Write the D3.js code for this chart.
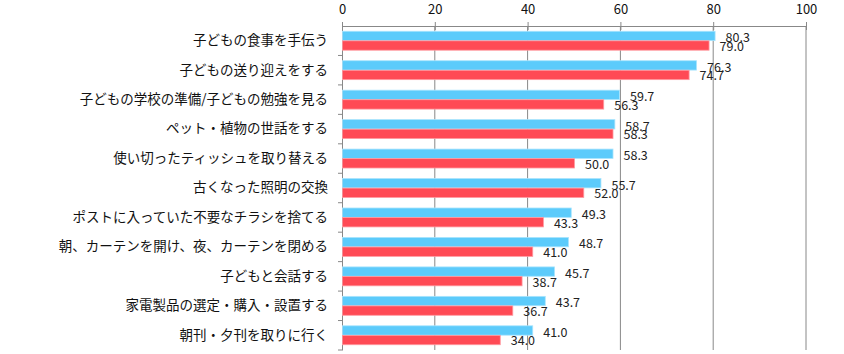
<!DOCTYPE html>
<html>
<head>
<meta charset="utf-8">
<script src="https://cdn.jsdelivr.net/npm/d3@7"></script>
<style>
  body { margin: 0; background: #fff; }
  text { font-family: "Noto Sans CJK JP", "Noto Sans", sans-serif; }
</style>
</head>
<body>
<div id="chart"></div>
<script>
// categories, top to bottom
const categories = [
    '子どもの食事を手伝う',
    '子どもの送り迎えをする',
    '子どもの学校の準備/子どもの勉強を見る',
    'ペット・植物の世話をする',
    '使い切ったティッシュを取り替える',
    '古くなった照明の交換',
    'ポストに入っていた不要なチラシを捨てる',
    '朝、カーテンを開け、夜、カーテンを閉める',
    '子どもと会話する',
    '家電製品の選定・購入・設置する',
    '朝刊・夕刊を取りに行く'
];
const blueValues = [80.3, 76.3, 59.7, 58.7, 58.3, 55.7, 49.3, 48.7, 45.7, 43.7, 41.0];
const redValues  = [79.0, 74.7, 56.3, 58.3, 50.0, 52.0, 43.3, 41.0, 38.7, 36.7, 34.0];
const xTicks = [0, 20, 40, 60, 80, 100];

const width = 844, height = 354;
const margin = { top: 26, right: 38, bottom: 4, left: 342 };

const svg = d3.select('#chart')
    .append('svg')
    .attr('width', width)
    .attr('height', height);

const x = d3.scaleLinear()
    .domain([0, 100])
    .range([margin.left, width - margin.right]);

const y = d3.scaleBand()
    .domain(categories)
    .range([margin.top, height - margin.bottom]);

// inner band for the two bars
const sub = d3.scaleBand()
    .domain(['blue', 'red'])
    .range([0, y.bandwidth()])
    .paddingOuter(0.55)
    .paddingInner(0.02);

// gridlines
svg.append('g')
    .selectAll('line')
    .data(xTicks.slice(1))
    .enter()
    .append('line')
    .attr('x1', d => x(d))
    .attr('x2', d => x(d))
    .attr('y1', margin.top)
    .attr('y2', height - margin.bottom)
    .attr('stroke', '#888')
    .attr('stroke-width', 1);

// top axis
const xAxis = svg.append('g')
    .attr('transform', `translate(0,${margin.top})`)
    .call(d3.axisTop(x).tickValues(xTicks).tickSize(4).tickSizeOuter(0));
xAxis.select('.domain').attr('stroke', '#888');
xAxis.selectAll('.tick line').attr('stroke', '#888').attr('y2', 4).attr('y1', -4);
xAxis.selectAll('.tick text')
    .attr('font-size', '13px')
    .attr('fill', '#111')
    .attr('y', -12);

// left axis
const yAxis = svg.append('g')
    .attr('transform', `translate(${margin.left},0)`)
    .call(d3.axisLeft(y).tickSize(0).tickSizeOuter(0));
yAxis.select('.domain').attr('stroke', '#888');
yAxis.selectAll('.tick text')
    .attr('font-size', '13.5px')
    .attr('fill', '#111')
    .attr('x', -14);

// category boundary ticks
svg.append('g')
    .selectAll('line')
    .data(categories.slice(1).concat([null]))
    .enter()
    .append('line')
    .attr('x1', margin.left - 4)
    .attr('x2', margin.left)
    .attr('y1', (d, i) => y(categories[i]) + y.bandwidth())
    .attr('y2', (d, i) => y(categories[i]) + y.bandwidth())
    .attr('stroke', '#888');

const rows = categories.map((c, i) => ({ cat: c, blue: blueValues[i], red: redValues[i] }));

const g = svg.append('g')
    .selectAll('g')
    .data(rows)
    .enter()
    .append('g')
    .attr('transform', d => `translate(0,${y(d.cat)})`);

// blue bars
g.append('rect')
    .attr('x', x(0) + 0.5)
    .attr('y', sub('blue'))
    .attr('width', d => x(d.blue) - x(0))
    .attr('height', sub.bandwidth())
    .attr('fill', '#5ccbfb')
    .attr('stroke', '#a9e4fd')
    .attr('stroke-width', 0.8);

// red bars
g.append('rect')
    .attr('x', x(0) + 0.5)
    .attr('y', sub('red'))
    .attr('width', d => x(d.red) - x(0))
    .attr('height', sub.bandwidth())
    .attr('fill', '#ff4a55')
    .attr('stroke', '#ff9aa0')
    .attr('stroke-width', 0.8);

// value labels
g.append('text')
    .attr('x', d => x(d.blue) + 11)
    .attr('y', sub('blue') + sub.bandwidth() / 2 + 2)
    .attr('dy', '0.35em')
    .attr('font-size', '12.5px')
    .attr('fill', '#222')
    .attr('font-family', '"Liberation Sans", sans-serif')
    .text(d => d.blue.toFixed(1));

g.append('text')
    .attr('x', d => x(d.red) + 11)
    .attr('y', sub('red') + sub.bandwidth() / 2 + 1)
    .attr('dy', '0.35em')
    .attr('font-size', '12.5px')
    .attr('fill', '#222')
    .attr('font-family', '"Liberation Sans", sans-serif')
    .text(d => d.red.toFixed(1));
</script>
</body>
</html>
